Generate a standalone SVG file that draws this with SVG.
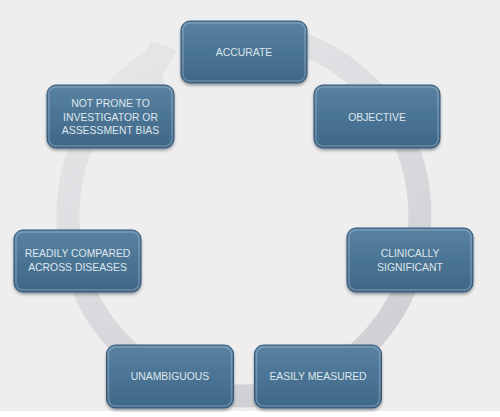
<svg xmlns="http://www.w3.org/2000/svg" width="500" height="417" viewBox="0 0 500 417">
<defs>
<linearGradient id="boxFill" x1="0" y1="0" x2="0" y2="1">
<stop offset="0" stop-color="#5882a2"/>
<stop offset="0.5" stop-color="#4b7494"/>
<stop offset="1" stop-color="#3f6787"/>
</linearGradient>
<linearGradient id="ringFill" gradientUnits="userSpaceOnUse" x1="120" y1="40" x2="330" y2="400">
<stop offset="0" stop-color="#e6e7e9"/>
<stop offset="1" stop-color="#cdcfd2"/>
</linearGradient>
<filter id="shadow" x="-10%" y="-10%" width="120%" height="130%">
<feDropShadow dx="0" dy="2" stdDeviation="1.5" flood-color="#000" flood-opacity="0.35"/>
</filter>
</defs>
<style>
.box{fill:url(#boxFill);stroke:#36597a;stroke-width:1;filter:url(#shadow)}
.hl{fill:none;stroke:#ffffff;stroke-opacity:0.22;stroke-width:1.5}
.lbl{font-family:"Liberation Sans",Arial,sans-serif;font-size:10.4px;fill:#dfe6ed;text-anchor:middle}
.ring{fill:none;stroke:url(#ringFill);stroke-width:23}
</style>
<rect x="0" y="0" width="500" height="417" fill="#eeeeee"/>
<rect x="0" y="411" width="500" height="6" fill="#ffffff"/>
<g id="connectors">
<path class="ring" d="M280.6 38 A176 181 0 1 1 150.7 61.5"/>
<polygon fill="url(#ringFill)" points="144.9,52.2 151,41 177,50 163,74 165,92 133.6,88.7"/>
</g>
<g id="node-accurate">
<rect class="box" x="181" y="21" width="126" height="62" rx="9"/>
<rect class="hl" x="183" y="23" width="122" height="58" rx="7"/>
<text class="lbl" x="244" y="56">ACCURATE</text>
</g>
<g id="node-objective">
<rect class="box" x="314" y="85" width="126" height="63" rx="9"/>
<rect class="hl" x="316" y="87" width="122" height="59" rx="7"/>
<text class="lbl" x="377" y="120.5">OBJECTIVE</text>
</g>
<g id="node-clinically">
<rect class="box" x="347" y="228" width="126" height="64" rx="9"/>
<rect class="hl" x="349" y="230" width="122" height="60" rx="7"/>
<text class="lbl" x="410" y="257">CLINICALLY</text>
<text class="lbl" x="410" y="270.5">SIGNIFICANT</text>
</g>
<g id="node-easily">
<rect class="box" x="254.5" y="345" width="127" height="63" rx="9"/>
<rect class="hl" x="256.5" y="347" width="123" height="59" rx="7"/>
<text class="lbl" x="318" y="380">EASILY MEASURED</text>
</g>
<g id="node-unambiguous">
<rect class="box" x="106.5" y="345" width="127" height="63" rx="9"/>
<rect class="hl" x="108.5" y="347" width="123" height="59" rx="7"/>
<text class="lbl" x="170" y="380">UNAMBIGUOUS</text>
</g>
<g id="node-readily">
<rect class="box" x="14" y="230" width="127" height="62" rx="9"/>
<rect class="hl" x="16" y="232" width="123" height="58" rx="7"/>
<text class="lbl" x="77.5" y="257">READILY COMPARED</text>
<text class="lbl" x="77.5" y="271.2">ACROSS DISEASES</text>
</g>
<g id="node-notprone">
<rect class="box" x="47" y="85" width="127" height="63" rx="9"/>
<rect class="hl" x="49" y="87" width="123" height="59" rx="7"/>
<text class="lbl" x="110.5" y="107">NOT PRONE TO</text>
<text class="lbl" x="110.5" y="120.7">INVESTIGATOR OR</text>
<text class="lbl" x="110.5" y="134.4">ASSESSMENT BIAS</text>
</g>
</svg>
